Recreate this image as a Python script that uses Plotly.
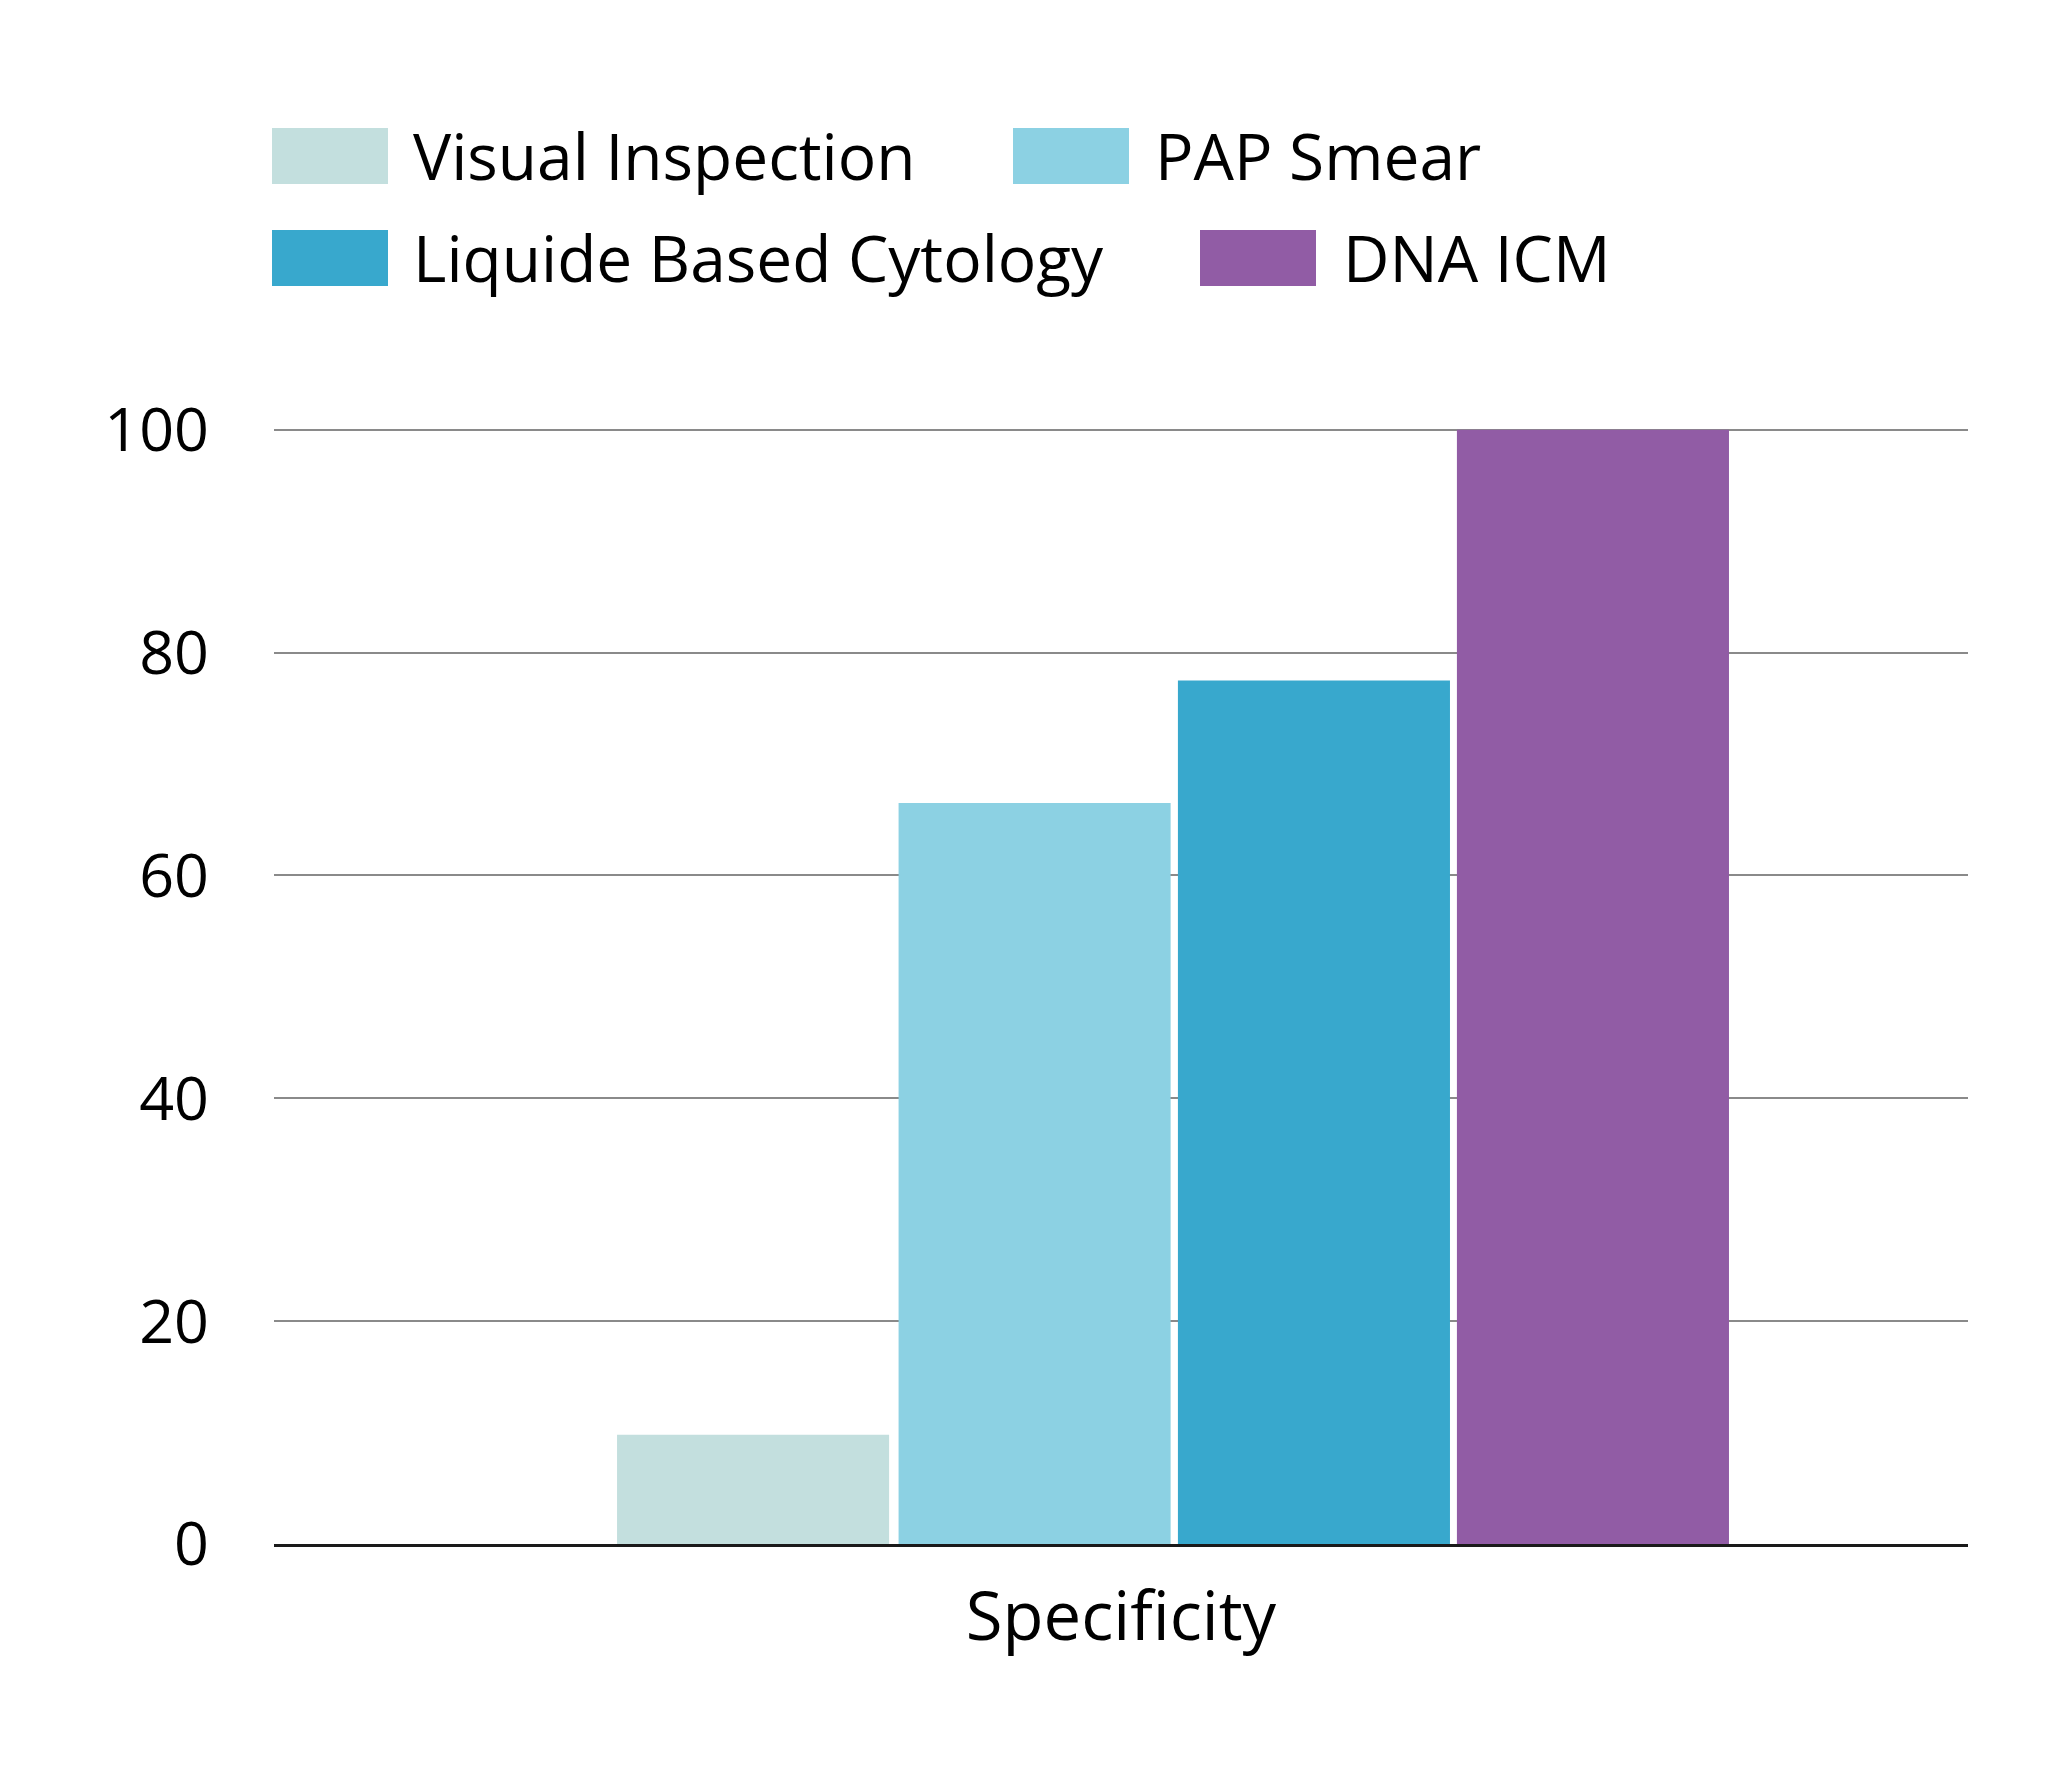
import plotly.graph_objects as go

# ---- data ----
categories = ["Specificity"]
series_names = ["Visual Inspection", "PAP Smear", "Liquide Based Cytology", "DNA ICM"]
vi_values = [9.8]
pap_values = [66.5]
lbc_values = [77.5]
dna_values = [100]
y_tick_values = [0, 20, 40, 60, 80, 100]

# ---- styles ----
colors = ["#C3DFDE", "#8CD1E3", "#38A8CD", "#915CA5"]
bar_width = 0.1606
bar_offsets = [-0.2975, -0.1313, 0.0336, 0.1983]
FONT = "Open Sans, Noto Sans, sans-serif"

BODY = 8  # default page margin around the figure
W, H = 2040, 1767
ML, MR, MT, MB = 266, 80, 419, 231
PW, PH = W - ML - MR, H - MT - MB

def px_x(p):
    # p: page pixel x
    return (p - BODY - ML) / PW

def px_y(p):
    # p: page pixel y
    return (H - MB - (p - BODY)) / PH

fig = go.Figure()
all_values = [vi_values, pap_values, lbc_values, dna_values]
for name, vals, col, off in zip(series_names, all_values, colors, bar_offsets):
    fig.add_trace(go.Bar(
        x=categories, y=vals, name=name,
        marker=dict(color=col, line=dict(width=0)),
        width=bar_width, offset=off, showlegend=False,
    ))

# custom legend (large swatches), positions in page pixels
legend_items = [
    # (swatch left, swatch top, text left)
    (272, 128, 411),
    (1013, 128, 1153),
    (272, 230, 411),
    (1200, 230, 1341),
]
sw_w, sw_h = 116, 56
shapes = []
annotations = []
for (sx, sy, tx), name, col in zip(legend_items, series_names, colors):
    shapes.append(dict(type="rect", xref="paper", yref="paper",
                       x0=px_x(sx), x1=px_x(sx + sw_w),
                       y0=px_y(sy + sw_h), y1=px_y(sy),
                       fillcolor=col, line=dict(width=0)))
    annotations.append(dict(xref="paper", yref="paper",
                            x=px_x(tx), y=px_y(sy + sw_h / 2 - 1),
                            xanchor="left", yanchor="middle",
                            text=name, showarrow=False,
                            font=dict(family=FONT, size=64, color="#000000")))

fig.update_layout(
    width=W, height=H,
    margin=dict(l=ML, r=MR, t=MT, b=MB, pad=0),
    paper_bgcolor="white", plot_bgcolor="white",
    barmode="overlay",
    shapes=shapes,
    annotations=annotations,
    showlegend=False,
    xaxis=dict(
        type="category", range=[-0.5, 0.5],
        showgrid=False, zeroline=False,
        showline=True, linecolor="#1a1a1a", linewidth=3,
        ticks="", tickfont=dict(family=FONT, size=67, color="#000000"),
        ticklabelstandoff=13,
    ),
    yaxis=dict(
        range=[0, 100.25], tickvals=y_tick_values,
        showgrid=True, gridcolor="#8a8a8a", gridwidth=2,
        zeroline=False, showline=False,
        ticks="", tickfont=dict(family=FONT, size=61, color="#000000"),
        ticklabelstandoff=64,
    ),
)

fig.write_html("out.html")
